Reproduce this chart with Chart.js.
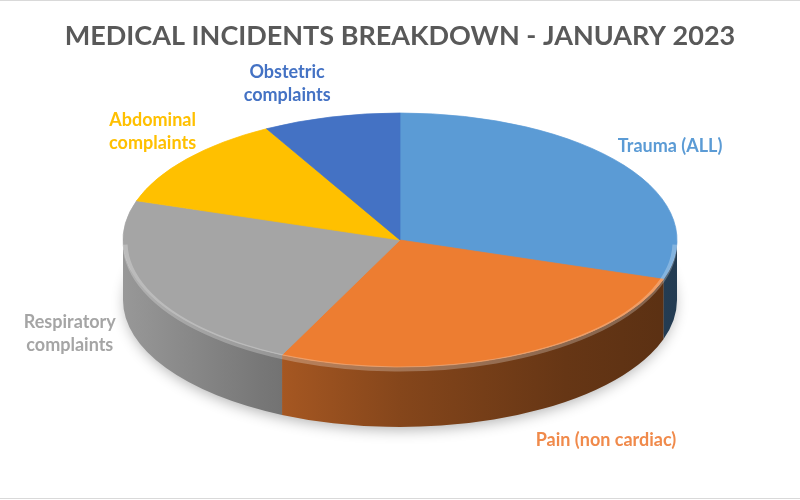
<!DOCTYPE html>
<html>
<head>
<meta charset="utf-8">
<script src="https://cdn.jsdelivr.net/npm/chart.js@4.4.0/dist/chart.umd.min.js"></script>
<style>
  html, body { margin: 0; padding: 0; background: #fff; }
  #wrap { width: 800px; height: 500px; }
</style>
</head>
<body>
<div id="wrap"><canvas id="pie-chart" width="800" height="500"></canvas></div>
<script>
const categories = ['Trauma (ALL)', 'Pain (non cardiac)', 'Respiratory complaints', 'Abdominal complaints', 'Obstetric complaints'];
const incidents = [30, 27, 23, 12, 8];
const sliceColors = ['#5b9bd5', '#ed7d31', '#a5a5a5', '#ffc000', '#4472c4'];
const labelColors = ['#5b9bd5', '#f08a4b', '#a5a5a5', '#ffc000', '#4472c4'];

// how Excel wrapped the data labels
const labelLines = [['Trauma (ALL)'], ['Pain (non cardiac)'], ['Respiratory', 'complaints'], ['Abdominal', 'complaints'], ['Obstetric', 'complaints']];
// label shift from the slice's outer edge
const labelNudge = [[46, -19], [96, 24], [-76, -17], [-34, -27], [-44, -33]];

// fake 3d: where the top face sits, how flat it is, how thick the disc is
const view = { cx: 400, cy: 240, tilt: 127 / 277, depth: 60 };
// side shading from left to right
const shadeStops = [[0, 0.92], [0.25, 0.72], [0.5, 0.56], [0.8, 0.43], [1, 0.38]];

function shade(hex, f) {
  const n = parseInt(hex.slice(1), 16);
  const r = Math.round(((n >> 16) & 255) * f);
  const g = Math.round(((n >> 8) & 255) * f);
  const b = Math.round((n & 255) * f);
  return `rgb(${r},${g},${b})`;
}

const pie3d = {
  id: 'pie3d',
  beforeDatasetsDraw(chart) {
    const ctx = chart.ctx;
    const arcs = chart.getDatasetMeta(0).data;
    const R = arcs[0].outerRadius;
    const ry = R * view.tilt;

    ctx.save();

    // soft shadow under the disc
    ctx.save();
    ctx.shadowColor = 'rgba(0,0,0,0.3)';
    ctx.shadowBlur = 14;
    ctx.shadowOffsetY = 5;
    ctx.fillStyle = '#999';
    ctx.beginPath();
    ctx.ellipse(view.cx, view.cy + view.depth - 2, R - 2, ry, 0, 0, Math.PI * 2);
    ctx.fill();
    ctx.restore();

    // front wall of each slice
    arcs.forEach((arc, i) => {
      const s = Math.max(arc.startAngle, 0);
      const e = Math.min(arc.endAngle, Math.PI);
      if (e <= s) return;
      const g = ctx.createLinearGradient(view.cx - R, 0, view.cx + R, 0);
      shadeStops.forEach(([t, f]) => g.addColorStop(t, shade(sliceColors[i], f)));
      ctx.fillStyle = g;
      ctx.beginPath();
      ctx.ellipse(view.cx, view.cy, R, ry, 0, s, e);
      ctx.ellipse(view.cx, view.cy + view.depth, R, ry, 0, e, s, true);
      ctx.closePath();
      ctx.fill();
    });

    // squash the flat pie into the top face
    ctx.translate(view.cx, view.cy);
    ctx.scale(1, view.tilt);
    ctx.translate(-arcs[0].x, -arcs[0].y);
  },
  afterDatasetsDraw(chart) {
    const ctx = chart.ctx;
    ctx.restore();
    const arcs = chart.getDatasetMeta(0).data;
    const R = arcs[0].outerRadius;
    const ry = R * view.tilt;

    // bevel highlight on the front rim
    ctx.save();
    ctx.strokeStyle = 'rgba(255,255,255,0.25)';
    ctx.lineWidth = 5;
    ctx.beginPath();
    ctx.ellipse(view.cx, view.cy + 2, R - 2, ry, 0, 0.02, Math.PI - 0.02);
    ctx.stroke();
    ctx.restore();
  },
  afterDraw(chart) {
    const ctx = chart.ctx;
    const arcs = chart.getDatasetMeta(0).data;
    const R = arcs[0].outerRadius;
    const ry = R * view.tilt;

    ctx.save();
    ctx.font = 'bold 18px Lato';
    ctx.textAlign = 'center';
    ctx.textBaseline = 'middle';
    arcs.forEach((arc, i) => {
      const mid = (arc.startAngle + arc.endAngle) / 2;
      let x = view.cx + R * Math.cos(mid);
      let y = view.cy + ry * Math.sin(mid);
      if (Math.sin(mid) > 0) y += view.depth;
      x += labelNudge[i][0];
      y += labelNudge[i][1];
      const lines = labelLines[i];
      const lh = 23;
      ctx.fillStyle = labelColors[i];
      lines.forEach((t, j) => {
        ctx.fillText(t, x, y + (j - (lines.length - 1) / 2) * lh);
      });
    });

    // thin frame lines of the exported picture
    ctx.fillStyle = '#d9d9d9';
    ctx.fillRect(0, 0, 800, 1);
    ctx.fillRect(0, 498, 800, 1);
    ctx.restore();
  }
};

new Chart(
  document.getElementById('pie-chart'),
  {
    type: 'pie',
    data: {
      labels: categories,
      datasets: [
        {
          label: 'Medical incidents',
          data: incidents,
          backgroundColor: sliceColors,
          borderColor: sliceColors,
          borderWidth: 1,
          radius: 277,
          clip: false
        }
      ]
    },
    options: {
      responsive: false,
      animation: false,
      events: [],
      layout: { padding: 0 },
      plugins: {
        legend: { display: false },
        tooltip: { enabled: false },
        title: {
          display: true,
          text: 'MEDICAL INCIDENTS BREAKDOWN - JANUARY 2023',
          color: '#595959',
          font: { family: 'Lato', size: 27, weight: 'bold' },
          padding: { top: 20, bottom: 10 }
        }
      }
    },
    plugins: [pie3d]
  }
);
</script>
</body>
</html>
